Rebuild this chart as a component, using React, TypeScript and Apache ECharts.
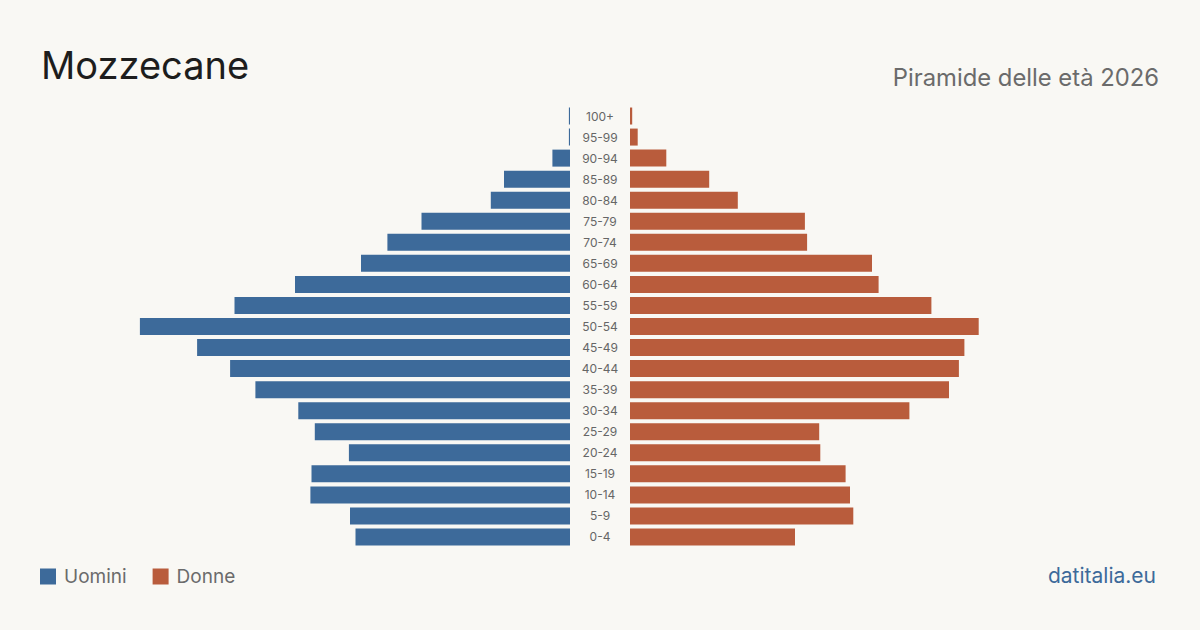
import React, { useEffect, useRef } from "react";
import * as echarts from "echarts";

// Age groups, top (oldest) to bottom (youngest)
const ageGroups = [
  "100+", "95-99", "90-94", "85-89", "80-84", "75-79", "70-74", "65-69",
  "60-64", "55-59", "50-54", "45-49", "40-44", "35-39", "30-34", "25-29",
  "20-24", "15-19", "10-14", "5-9", "0-4",
];

// Residents by age group
const men = [
  1, 1, 16, 60, 72, 135, 166, 190, 250, 305, 391, 339, 309, 286, 247, 232,
  201, 235, 236, 200, 195,
];
const women = [
  2, 7, 33, 72, 98, 159, 161, 220, 226, 274, 317, 304, 299, 290, 254, 172,
  173, 196, 200, 203, 150,
];

const axisMax = 400;
const MEN_COLOR = "#3d6a9a";
const WOMEN_COLOR = "#b95c3c";
const FONT = "Inter, 'Noto Sans', sans-serif";

export default function App() {
  const ref = useRef<HTMLDivElement>(null);

  useEffect(() => {
    if (!ref.current) return;
    const chart = echarts.init(ref.current, undefined, { renderer: "svg" });
    const cats = [...ageGroups].reverse();
    const menData = [...men].reverse();
    const womenData = [...women].reverse();

    chart.setOption({
      animation: false,
      backgroundColor: "#f9f8f4",
      textStyle: { fontFamily: FONT },
      title: [
        {
          text: "Mozzecane",
          left: 36,
          top: 41,
          textStyle: { fontSize: 38, fontWeight: 400, color: "#1d1d1d", fontFamily: FONT },
        },
        {
          text: "Piramide delle età 2026",
          right: 36,
          top: 60,
          textStyle: { fontSize: 23.8, fontWeight: 400, color: "#6b6b6b", fontFamily: FONT },
        },
        {
          text: "datitalia.eu",
          right: 39,
          top: 560,
          textStyle: { fontSize: 21, fontWeight: 400, color: "#3d6a9a", fontFamily: FONT },
        },
      ],
      legend: {
        left: 35,
        top: 562,
        itemWidth: 16,
        itemHeight: 16,
        itemGap: 26,
        icon: "rect",
        textStyle: { fontSize: 19, color: "#6b6b6b", fontFamily: FONT, padding: [0, 0, 0, 3] },
        data: ["Uomini", "Donne"],
      },
      grid: [
        { left: 130, width: 440, top: 105.5, height: 442, containLabel: false },
        { left: 630, width: 440, top: 105.5, height: 442, containLabel: false },
      ],
      xAxis: [
        {
          gridIndex: 0,
          type: "value",
          min: 0,
          max: axisMax,
          inverse: true,
          show: false,
        },
        {
          gridIndex: 1,
          type: "value",
          min: 0,
          max: axisMax,
          show: false,
        },
      ],
      yAxis: [
        {
          gridIndex: 0,
          type: "category",
          data: cats,
          position: "right",
          axisLine: { show: false },
          axisTick: { show: false },
          axisLabel: {
            align: "center",
            margin: 30,
            fontSize: 12,
            color: "#666",
            fontFamily: FONT,
          },
        },
        {
          gridIndex: 1,
          type: "category",
          data: cats,
          axisLine: { show: false },
          axisTick: { show: false },
          axisLabel: { show: false },
        },
      ],
      series: [
        {
          name: "Uomini",
          type: "bar",
          xAxisIndex: 0,
          yAxisIndex: 0,
          data: menData,
          barWidth: 17,
          itemStyle: { color: MEN_COLOR },
        },
        {
          name: "Donne",
          type: "bar",
          xAxisIndex: 1,
          yAxisIndex: 1,
          data: womenData,
          barWidth: 17,
          itemStyle: { color: WOMEN_COLOR },
        },
      ],
    });

    return () => chart.dispose();
  }, []);

  return (
    <div
      ref={ref}
      style={{ width: 1200, height: 630, position: "absolute", left: 0, top: 0 }}
    />
  );
}
